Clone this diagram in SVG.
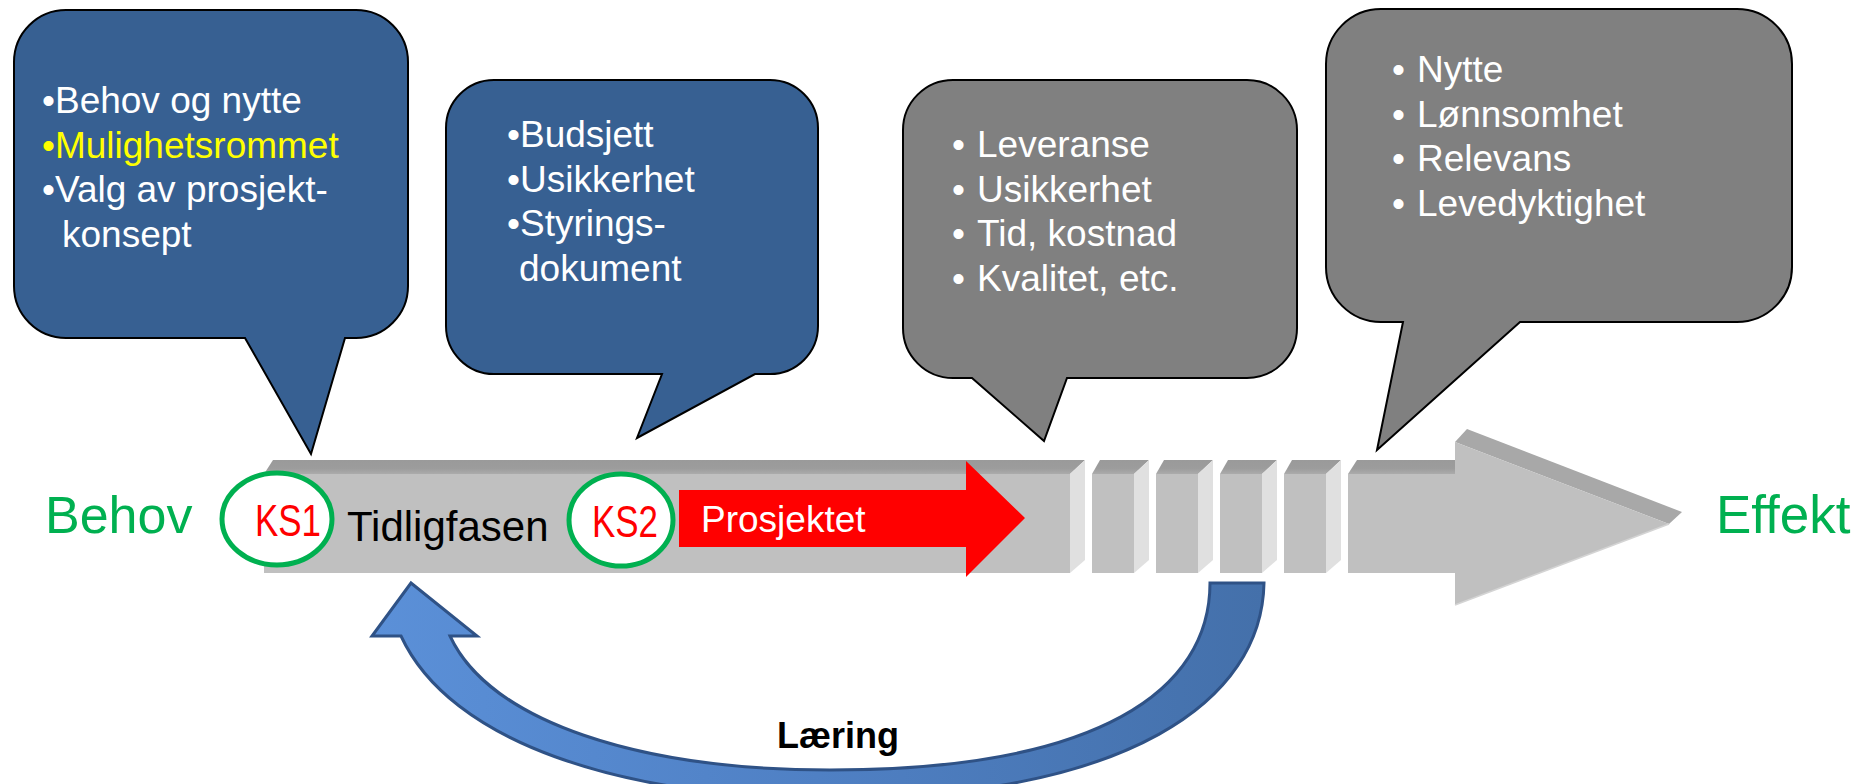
<svg xmlns="http://www.w3.org/2000/svg" width="1864" height="784" viewBox="0 0 1864 784">
<style>
.t{font-family:"Liberation Sans",Arial,sans-serif;}
.bt{font-family:"Liberation Sans",Arial,sans-serif;font-size:37px;fill:#ffffff;}
.blue{fill:#376092;stroke:#000;stroke-width:2;}
.gray{fill:#808080;stroke:#000;stroke-width:2;}
.topf{fill:url(#topg);}
.front{fill:#c0c0c0;}
.side{fill:#e0e0e0;}
.ks{fill:#fff;stroke:#00b050;stroke-width:5;}
.kst{font-family:"Liberation Sans",Arial,sans-serif;font-size:45px;fill:#ff0000;text-anchor:middle;}
.green{font-family:"Liberation Sans",Arial,sans-serif;font-size:52px;fill:#00b050;}
</style>
<defs>
<linearGradient id="topg" x1="0" y1="0" x2="0" y2="1">
<stop offset="0" stop-color="#9a9a9a"/>
<stop offset="0.6" stop-color="#9c9c9c"/>
<stop offset="1" stop-color="#ababab"/>
</linearGradient>
<linearGradient id="blueg" x1="0" y1="0" x2="1" y2="0">
<stop offset="0" stop-color="#5b90d8"/>
<stop offset="0.5" stop-color="#4f80c4"/>
<stop offset="1" stop-color="#4470aa"/>
</linearGradient>
</defs>

<g id="bubble1">
<path class="blue" d="M66,10 H356 A52,52 0 0 1 408,62 V286 A52,52 0 0 1 356,338 H345 L311,454 L245,338 H66 A52,52 0 0 1 14,286 V62 A52,52 0 0 1 66,10 Z"/>
<text class="bt" x="42" y="113">•Behov og nytte</text>
<text class="bt" x="42" y="158" style="fill:#ffff00">•Mulighetsrommet</text>
<text class="bt" x="42" y="202">•Valg av prosjekt-</text>
<text class="bt" x="62" y="247">konsept</text>
</g>

<g id="bubble2">
<path class="blue" d="M494,80 H770 A48,48 0 0 1 818,128 V326 A48,48 0 0 1 770,374 H755 L637,438 L662,374 H494 A48,48 0 0 1 446,326 V128 A48,48 0 0 1 494,80 Z"/>
<text class="bt" x="507" y="147">•Budsjett</text>
<text class="bt" x="507" y="192">•Usikkerhet</text>
<text class="bt" x="507" y="236">•Styrings-</text>
<text class="bt" x="519" y="281">dokument</text>
</g>

<g id="bubble3">
<path class="gray" d="M953,80 H1247 A50,50 0 0 1 1297,130 V328 A50,50 0 0 1 1247,378 H1067 L1044,441 L972,378 H953 A50,50 0 0 1 903,328 V130 A50,50 0 0 1 953,80 Z"/>
<text class="bt" y="157"><tspan x="952">•</tspan><tspan x="977">Leveranse</tspan></text>
<text class="bt" y="201.5"><tspan x="952">•</tspan><tspan x="977">Usikkerhet</tspan></text>
<text class="bt" y="246"><tspan x="952">•</tspan><tspan x="977">Tid, kostnad</tspan></text>
<text class="bt" y="290.5"><tspan x="952">•</tspan><tspan x="977">Kvalitet, etc.</tspan></text>
</g>

<g id="bubble4">
<path class="gray" d="M1381,9 H1737 A55,55 0 0 1 1792,64 V267 A55,55 0 0 1 1737,322 H1520 L1377,450 L1403,322 H1381 A55,55 0 0 1 1326,267 V64 A55,55 0 0 1 1381,9 Z"/>
<text class="bt" y="82"><tspan x="1392">•</tspan><tspan x="1417">Nytte</tspan></text>
<text class="bt" y="127"><tspan x="1392">•</tspan><tspan x="1417">Lønnsomhet</tspan></text>
<text class="bt" y="171"><tspan x="1392">•</tspan><tspan x="1417">Relevans</tspan></text>
<text class="bt" y="216"><tspan x="1392">•</tspan><tspan x="1417">Levedyktighet</tspan></text>
</g>

<g id="timeline">
<polygon class="topf" points="273,460 1085,460 1070,474 264,474"/>
<rect class="front" x="264" y="474" width="806" height="99"/>
<polygon class="side" points="1070,474 1085,460 1085,560 1070,573"/>
<polygon class="topf" points="1100,460 1149,460 1134,474 1092,474"/>
<rect class="front" x="1092" y="474" width="42" height="99"/>
<polygon class="side" points="1134,474 1149,460 1149,560 1134,573"/>
<polygon class="topf" points="1164,460 1213,460 1198,474 1156,474"/>
<rect class="front" x="1156" y="474" width="42" height="99"/>
<polygon class="side" points="1198,474 1213,460 1213,560 1198,573"/>
<polygon class="topf" points="1228,460 1277,460 1262,474 1220,474"/>
<rect class="front" x="1220" y="474" width="42" height="99"/>
<polygon class="side" points="1262,474 1277,460 1277,560 1262,573"/>
<polygon class="topf" points="1292,460 1341,460 1326,474 1284,474"/>
<rect class="front" x="1284" y="474" width="42" height="99"/>
<polygon class="side" points="1326,474 1341,460 1341,560 1326,573"/>
<polygon class="topf" points="1357,460 1456,460 1456,474 1348,474"/>
<rect class="front" x="1348" y="474" width="108" height="99"/>
<polygon fill="#a8a8a8" points="1455,442 1467,429 1682,512 1669,524"/>
<polygon class="front" points="1455,442 1669,524 1455,605"/>
<polyline points="1455,605 1669,524" fill="none" stroke="#d4d4d4" stroke-width="1.5"/>
</g>

<g id="prosjektet">
<polygon fill="#ff0000" points="679,490 966,490 966,461 1025,518 966,577 966,547 679,547"/>
<text class="t" x="701" y="532" font-size="37" fill="#ffffff">Prosjektet</text>
</g>

<g id="tidligfasen">
<text class="t" x="347" y="541" font-size="42" fill="#000000">Tidligfasen</text>
</g>

<g id="ks1">
<ellipse class="ks" cx="277" cy="519" rx="55" ry="46"/>
<text class="kst" x="288" y="536" textLength="66" lengthAdjust="spacingAndGlyphs">KS1</text>
</g>

<g id="ks2">
<ellipse class="ks" cx="621" cy="520" rx="52" ry="46"/>
<text class="kst" x="625" y="537" textLength="66" lengthAdjust="spacingAndGlyphs">KS2</text>
</g>

<g id="behov">
<text class="green" x="45" y="533">Behov</text>
</g>

<g id="effekt">
<text class="green" x="1716" y="533" style="font-size:53px">Effekt</text>
</g>

<g id="connectors">
<path fill="url(#blueg)" stroke="#2f5286" stroke-width="3" d="M411,583 L477,636 L450,636 C490,722 640,770 830,770 C1100,770 1210,690 1210,583 L1264,583 C1262,700 1130,798 830,798 C620,798 450,742 401,636 L372,636 Z"/>
<text class="t" x="777" y="748" font-size="36" font-weight="bold" fill="#000000">Læring</text>
</g>
</svg>
